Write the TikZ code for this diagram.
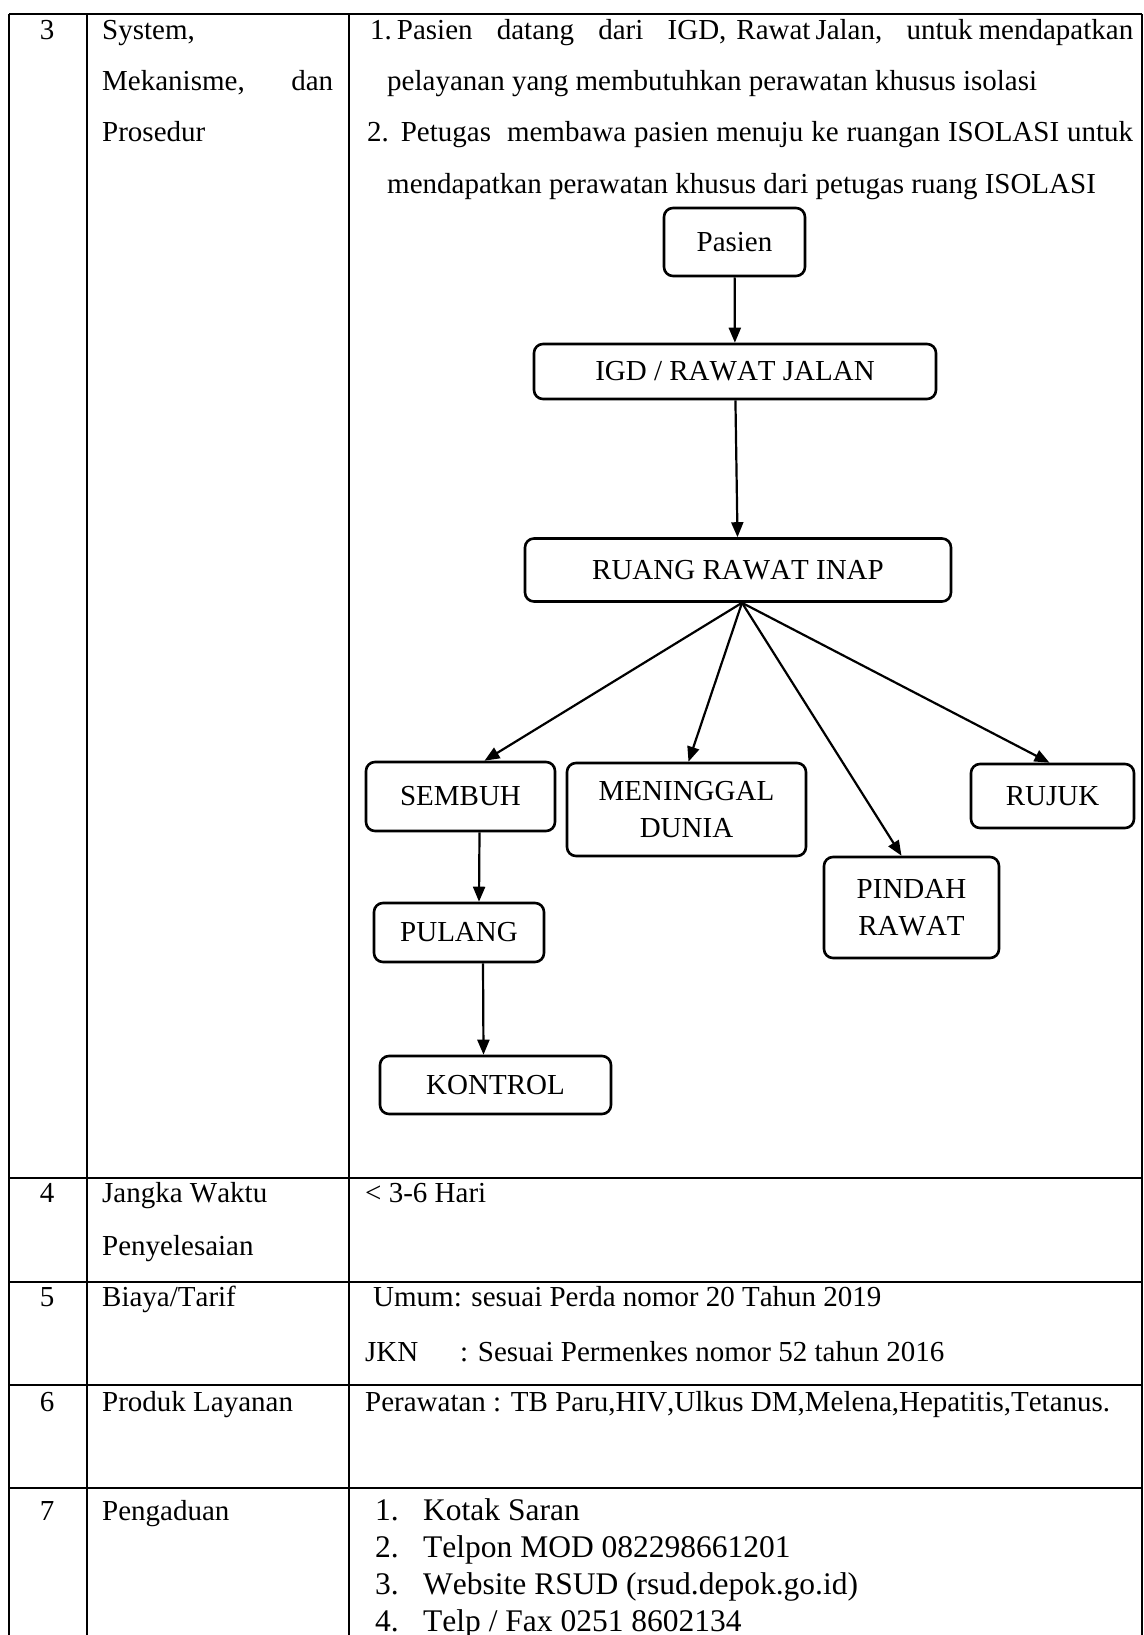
\documentclass[tikz,border=0pt]{standalone}
\usepackage{fontspec}
\setmainfont{Liberation Serif}[Kerning=Off]
\usetikzlibrary{arrows.meta,positioning}

\tikzset{
  rule/.style={line width=1.8pt},
  cell/.style={anchor=base west, inner sep=0pt, font=\fontsize{29}{35}\selectfont},
  num/.style={anchor=base, inner sep=0pt, font=\fontsize{29}{35}\selectfont},
  item/.style={anchor=base west, inner sep=0pt, font=\fontsize{31.5}{38}\selectfont},
  flow/.style={draw, line width=2.6pt, rounded corners=9pt, align=center,
    inner sep=0pt, font=\fontsize{29}{37}\selectfont},
  link/.style={->, line width=2.2pt}
}

\begin{document}
\begin{tikzpicture}[x=1pt, y=-1pt, >={Triangle[length=15pt,width=12pt]}]
    \useasboundingbox (0,0) rectangle (1143,1635);
    \def\ca{47}
    \def\cb{102}
    \def\cc{370}
    % Table rules
    \draw[rule] (9,14) -- (1142,14);
    \foreach \y in {1178,1282,1385,1488}
      \draw[rule] (9,\y) -- (1142,\y);
    \foreach \x in {9,87,349,1142}
      \draw[rule] (\x,14) -- (\x,1635);

    % Row 3
    \node[num] (n3) at (\ca,40) {3};
    \node[cell] (s1) at (\cb,40) {System,};
    \node[cell] (s2) at (\cb,91) {\makebox[231pt][s]{Mekanisme, dan}};
    \node[cell] (s3) at (\cb,142) {Prosedur};
    \node[cell] (p1) at (\cc,40) {\makebox[763pt][l]{1.\hspace{5pt}Pasien\hfill datang\hfill dari\hfill IGD,\hspace{10pt}Rawat\hspace{5pt}Jalan,\hfill untuk\hspace{6pt}mendapatkan}};
    \node[cell] (p2) at (387,91) {pelayanan yang membutuhkan perawatan khusus isolasi};
    \node[cell] (p3) at (367,142) {\makebox[766pt][s]{2. Petugas\ \ membawa pasien menuju ke ruangan ISOLASI untuk}};
    \node[cell] (p4) at (387,193) {mendapatkan perawatan khusus dari petugas ruang ISOLASI};

    % Flow
    \node[flow, minimum width=141pt, minimum height=68pt] (pasien) at (734.5,242) {Pasien};
    \node[flow, minimum width=402pt, minimum height=55pt] (igd) at (735,371.5) {IGD / RAWAT JALAN};
    \node[flow, minimum width=426pt, minimum height=63pt] (inap) at (738,570) {RUANG RAWAT INAP};
    \node[flow, minimum width=189pt, minimum height=69pt] (sembuh) at (460.5,796.5) {SEMBUH};
    \node[flow, minimum width=239pt, minimum height=93pt] (meninggal) at (686.5,809.5) {MENINGGAL\\DUNIA};
    \node[flow, minimum width=163pt, minimum height=64pt] (rujuk) at (1052.5,796) {RUJUK};
    \node[flow, minimum width=175pt, minimum height=101pt] (pindah) at (911.5,907.5) {PINDAH\\RAWAT};
    \node[flow, minimum width=170pt, minimum height=59pt] (pulang) at (459,932.5) {PULANG};
    \node[flow, minimum width=231pt, minimum height=58pt] (kontrol) at (495.5,1085) {KONTROL};

    \coordinate (fan) at ([xshift=4pt]inap.south);
    \draw[link] (pasien) -- (igd);
    \draw[link] (igd) -- (inap);
    \draw[link] (fan) -- ([xshift=24pt]sembuh.north);
    \draw[link] (fan) -- ([xshift=2pt]meninggal.north);
    \draw[link] (fan) -- ([xshift=-10pt]pindah.north);
    \draw[link] (fan) -- ([xshift=-3pt]rujuk.north);
    \draw[link] ([xshift=19pt]sembuh.south) -- ([xshift=20pt]pulang.north);
    \draw[link] ([xshift=24pt]pulang.south) -- ([xshift=-12pt]kontrol.north);

    % Row 4
    \node[num] (n4) at (\ca,1202) {4};
    \node[cell] (j1) at (\cb,1202) {Jangka Waktu};
    \node[cell] (j2) at (\cb,1255) {Penyelesaian};
    \node[cell] (hari) at (365,1202) {< 3-6 Hari};
    % Row 5
    \node[num] (n5) at (\ca,1306) {5};
    \node[cell] (biaya) at (\cb,1306) {Biaya/Tarif};
    \node[cell] (umum) at (373,1306) {Umum: sesuai Perda nomor 20 Tahun 2019};
    \node[cell] (jkn) at (365,1361) {JKN};
    \node[cell] (jknval) at (460,1361) {: Sesuai Permenkes nomor 52 tahun 2016};
    % Row 6
    \node[num] (n6) at (\ca,1411) {6};
    \node[cell] (produk) at (\cb,1411) {Produk Layanan};
    \node[cell] (rawat) at (365,1411) {Perawatan : TB Paru,HIV,Ulkus DM,Melena,Hepatitis,Tetanus.};
    % Row 7
    \node[num] (n7) at (\ca,1520) {7};
    \node[cell] (aduan) at (\cb,1520) {Pengaduan};
    \foreach \t[count=\i] in {Kotak Saran, Telpon MOD 082298661201, Website RSUD (rsud.depok.go.id), Telp / Fax 0251 8602134}{
      \node[item] (k\i) at (375,1483+37*\i) {\i.};
      \node[item] (v\i) at (423,1483+37*\i) {\t};
    }
\end{tikzpicture}
\end{document}
